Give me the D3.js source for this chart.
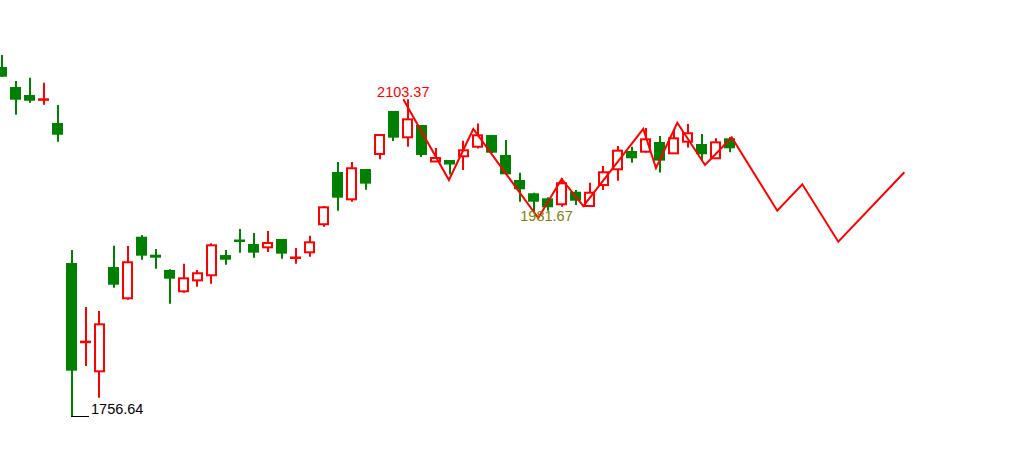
<!DOCTYPE html>
<html>
<head>
<meta charset="utf-8">
<script src="https://cdn.jsdelivr.net/npm/d3@7/dist/d3.min.js"></script>
<style>
  html, body { margin: 0; padding: 0; background: #ffffff; }
  svg { display: block; }
</style>
</head>
<body>
<div id="chart"></div>
<script>
// ---- Data ----
const opens  = [2138.6,2116.8,2108.1,2103.3,2077.5,1924.7,1838.8,1806.5,1920.3,1886.2,
                1953.4,1933.8,1917.1,1893.8,1905.8,1911.3,1933.4,1949.8,1945.4,1941.8,
                1950.9,1930.2,1936.4,1967.0,2024.0,1994.2,2027.3,2043.7,2090.6,2061.9,
                2075.3,2035.5,2037.1,2041.2,2051.6,2064.4,2042.6,2015.3,2000.8,1995.3,
                1988.8,2002.5,1986.9,2009.8,2027.0,2047.0,2046.2,2056.8,2044.4,2057.1,
                2054.6,2039.0,2060.8];
const highs  = [2151.7,2123.3,2126.9,2121.5,2097.2,1938.9,1876.7,1872.3,1943.6,1943.3,
                1955.3,1940.0,1917.8,1924.0,1917.1,1946.2,1938.9,1961.8,1957.5,1959.6,
                1950.9,1941.1,1954.5,1986.9,2034.9,2034.9,2027.3,2065.5,2090.6,2103.37,
                2075.3,2050.2,2037.1,2058.2,2077.0,2064.4,2059.0,2023.3,2001.4,1996.4,
                2017.2,2004.4,2012.4,2030.6,2052.4,2051.6,2072.1,2063.3,2069.9,2076.4,
                2065.5,2060.8,2062.2];
const lows   = [2128.0,2086.6,2099.7,2097.5,2057.1,1756.64,1812.3,1777.7,1897.8,1884.7,
                1928.3,1918.5,1880.3,1892.3,1898.9,1902.1,1922.9,1936.0,1930.5,1936.7,
                1929.4,1924.0,1931.6,1964.3,1981.8,1991.6,2004.7,2037.9,2057.9,2051.6,
                2040.4,2035.5,2021.3,2026.2,2049.7,2044.8,2021.5,1991.6,1979.0,1981.67,
                1986.2,1988.0,1986.9,2004.4,2014.5,2034.2,2045.1,2023.5,2044.4,2050.8,
                2036.4,2039.0,2045.5];
const closes = [2128.0,2102.9,2101.8,2103.4,2064.7,1807.2,1838.9,1857.8,1901.0,1925.5,
                1932.7,1930.5,1907.6,1908.0,1913.5,1944.0,1928.3,1948.7,1936.0,1946.5,
                1934.9,1931.3,1947.3,1985.5,1996.0,2028.1,2011.3,2064.4,2061.5,2081.5,
                2042.6,2039.3,2032.2,2047.7,2064.1,2045.1,2021.5,2005.2,1991.6,1985.5,
                2011.7,1992.7,2001.4,2023.7,2047.3,2039.0,2059.7,2036.4,2060.8,2066.3,
                2043.4,2056.4,2049.9];

// zigzag pivots (bar position, value)
const zigIndex = [28.70, 31.96, 33.70, 38.34, 40.01, 41.56, 45.84, 46.75, 48.27, 50.25,
                  52.16, 55.41, 57.20, 59.77, 64.49];
const zigValue = [2103.37, 2015.3, 2071.0, 1973.8, 2016.4, 1986.9, 2071.0, 2028.4, 2077.8, 2031.7,
                  2061.7, 1981.8, 2010.6, 1948.0, 2023.7];

// annotated extremes
const maxMark = { index: 0 };          // first zigzag pivot
const minMarkBar = 39;                 // local low bar
const lowMarkBar = 5;                  // overall low bar

// ---- Layout ----
const W = 1028, H = 468;
const n = opens.length;
const UP = "#ff0000", DOWN = "#008000";

const svg = d3.select("#chart").append("svg").attr("width", W).attr("height", H);

const x = d3.scaleLinear().domain([0, n - 1]).range([1.5, 1.5 + 14 * (n - 1)]);
const y = d3.scaleLinear().domain([1756.64, 2103.37]).range([417, 99.3]);

const bars = d3.range(n).map(i => ({
  i, o: opens[i], h: highs[i], l: lows[i], c: closes[i], up: closes[i] >= opens[i]
}));

const bodyW = 11;
const g = svg.append("g");

bars.forEach(d => {
  const cx = x(d.i);
  const wx = Math.round(cx);
  const top = y(Math.max(d.o, d.c));
  let bot = y(Math.min(d.o, d.c));
  const col = d.up ? UP : DOWN;
  const doji = (bot - top) < 2.5;
  if (d.up && !doji) {
    g.append("line").attr("x1", wx).attr("x2", wx).attr("y1", y(d.h)).attr("y2", top)
      .attr("stroke", col).attr("stroke-width", 2);
    g.append("line").attr("x1", wx).attr("x2", wx).attr("y1", bot).attr("y2", y(d.l))
      .attr("stroke", col).attr("stroke-width", 2);
    g.append("rect").attr("x", cx - bodyW / 2 + 1).attr("y", top)
      .attr("width", bodyW - 2).attr("height", Math.max(bot - top, 1))
      .attr("fill", "#ffffff").attr("stroke", col).attr("stroke-width", 2);
  } else {
    g.append("line").attr("x1", wx).attr("x2", wx).attr("y1", y(d.h)).attr("y2", y(d.l))
      .attr("stroke", col).attr("stroke-width", 2);
    const mid = (top + bot) / 2;
    const t = doji ? mid - 1 : top;
    const hh = doji ? 2.5 : bot - top;
    g.append("rect").attr("x", cx - bodyW / 2).attr("y", t)
      .attr("width", bodyW).attr("height", hh).attr("fill", col);
  }
});

// zigzag line
const zig = zigIndex.map((v, k) => [v, zigValue[k]]);
svg.append("path")
  .datum(zig)
  .attr("fill", "none")
  .attr("stroke", UP)
  .attr("stroke-width", 2)
  .attr("stroke-linejoin", "miter")
  .attr("d", d3.line().x(d => x(d[0])).y(d => y(d[1])));

const fmt = d3.format(".2f");
const font = "'Liberation Sans', Arial, sans-serif";
const fs = 14.5;

// max label (zigzag top)
svg.append("text")
  .attr("x", x(zig[maxMark.index][0]))
  .attr("y", y(zig[maxMark.index][1]) - 2.5)
  .attr("text-anchor", "middle")
  .attr("font-family", font).attr("font-size", fs)
  .attr("fill", UP)
  .text(fmt(zig[maxMark.index][1]));

// local low label
svg.append("text")
  .attr("x", x(minMarkBar) - 1)
  .attr("y", y(lows[minMarkBar]) + 10)
  .attr("text-anchor", "middle")
  .attr("font-family", font).attr("font-size", fs)
  .attr("fill", "#808000")
  .text(fmt(lows[minMarkBar]));

// overall low label with leader
const lx = Math.round(x(lowMarkBar));
const ly = Math.round(y(lows[lowMarkBar])) - 0.5;
svg.append("line").attr("x1", lx - 1).attr("x2", lx + 17).attr("y1", ly).attr("y2", ly)
  .attr("stroke", "#000000").attr("stroke-width", 1);
svg.append("text")
  .attr("x", lx + 19)
  .attr("y", ly - 2.5)
  .attr("font-family", font).attr("font-size", fs)
  .attr("fill", "#000000")
  .text(fmt(lows[lowMarkBar]));
</script>
</body>
</html>
